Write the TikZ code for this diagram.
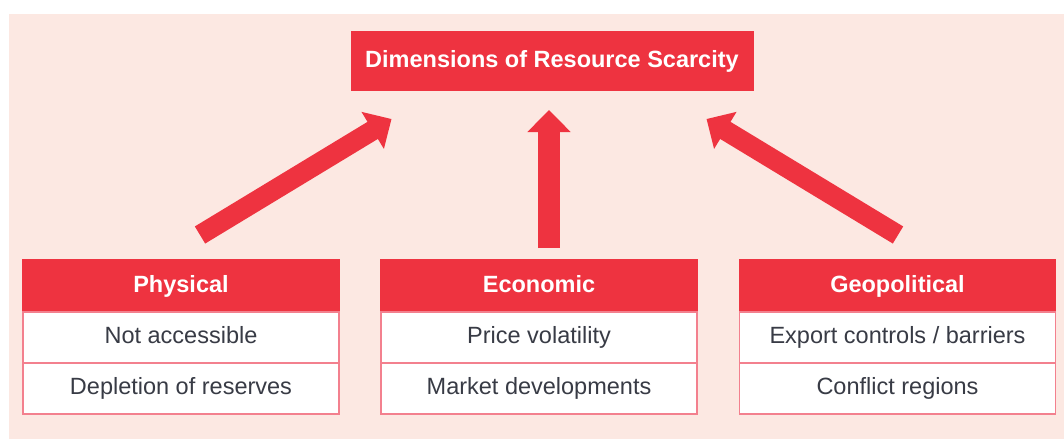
\documentclass[tikz,border=0pt]{standalone}
\usepackage{fontspec}
\setmainfont{Liberation Sans}
\usetikzlibrary{positioning,calc,arrows.meta}
\definecolor{scred}{HTML}{EE3340}
\definecolor{scpink}{HTML}{FCE8E2}
\definecolor{scline}{HTML}{F3808E}
\definecolor{sctext}{HTML}{383B45}
\begin{document}
\begin{tikzpicture}[x=1pt,y=-1pt,every node/.style={font=\fontsize{23.5}{28}\selectfont,outer sep=0pt,text height=17pt,text depth=5pt}]
\tikzstyle{topbox} = [fill=scred,text=white,font=\fontsize{23.5}{28}\selectfont\bfseries,minimum width=403pt,minimum height=60pt]
\tikzstyle{head} = [fill=scred,draw=scred,line width=1.5pt,text=white,font=\fontsize{23.5}{28}\selectfont\bfseries,minimum width=316pt,minimum height=52pt]
\tikzstyle{cell} = [fill=white,draw=scline,line width=1.5pt,text=sctext,minimum width=316pt,minimum height=51pt]
\tikzstyle{bigarrow} = [draw=scred,line width=20pt,-{Triangle[width=42pt,length=22pt]}]

\fill[white] (0,0) rectangle (1064,439);
\fill[scpink] (9,14) rectangle (1064,439);
\useasboundingbox (0,0) rectangle (1064,439);

\node [topbox] (dim) at (552,61) {Dimensions of Resource Scarcity};

\node [head] (phy) at (181,286) {Physical};
\node [cell,below=0pt of phy] (phy1) {Not accessible};
\node [cell,below=0pt of phy1] (phy2) {Depletion of reserves};

\node [head] (eco) at (539,286) {Economic};
\node [cell,below=0pt of eco] (eco1) {Price volatility};
\node [cell,below=0pt of eco1] (eco2) {Market developments};

\node [head] (geo) at (897.5,286) {Geopolitical};
\node [cell,below=0pt of geo] (geo1) {Export controls / barriers};
\node [cell,below=0pt of geo1] (geo2) {Conflict regions};

\draw [bigarrow] ($(phy.north)+(19,-25)$) -- ($(dim.south west)+(41,28)$);
\draw [bigarrow,line width=22pt] ($(eco.north)+(10,-12)$) -- ($(dim.south)+(-3,19)$);
\draw [bigarrow] ($(geo.north)+(0.5,-25)$) -- ($(dim.south east)+(-47,28)$);
\end{tikzpicture}
\end{document}
